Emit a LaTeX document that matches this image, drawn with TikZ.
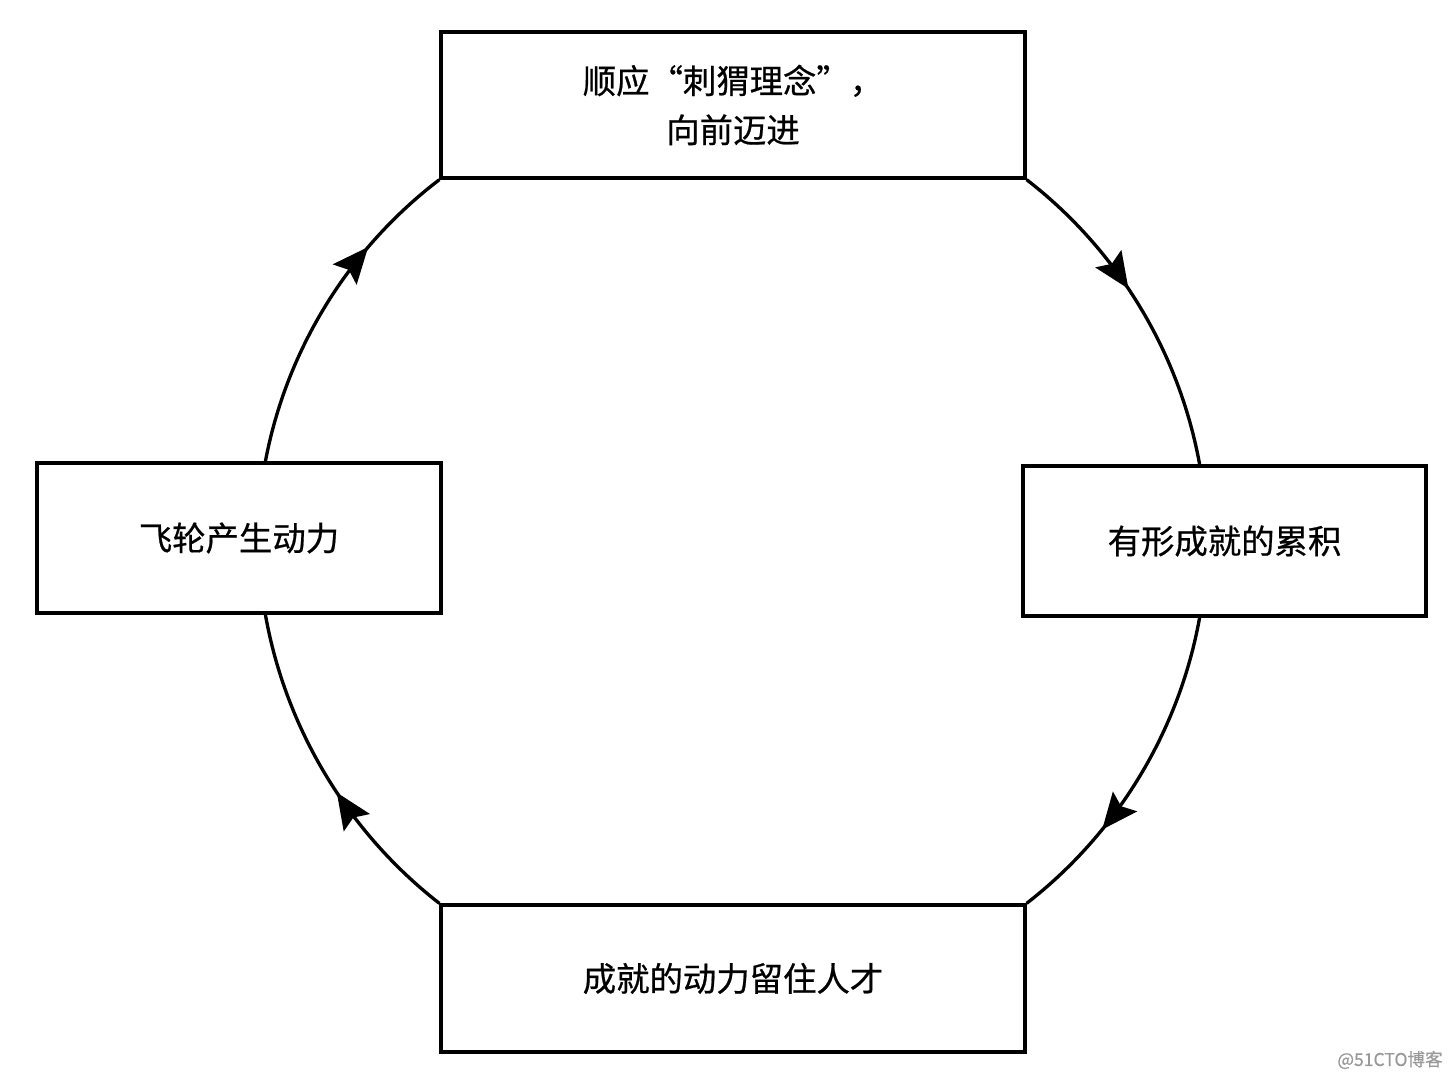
\documentclass[tikz,border=0pt]{standalone}
\usepackage{fontspec}
\setmainfont{Noto Sans CJK SC}[FakeBold=0.6]
\usetikzlibrary{arrows.meta,decorations.markings}

\begin{document}
\begin{tikzpicture}[x=0.02cm,y=-0.02cm,line width=1.9pt,
        main node/.style={rectangle,draw,inner sep=0pt,align=center,
          font=\fontsize{19pt}{28pt}\selectfont},
        flow/.style={bend left=21,looseness=0.88,postaction={decorate},
          decoration={markings,mark=at position #1 with {\arrow{Stealth[length=0.72cm,width=0.62cm,inset=0.12cm]}}}}]
        \useasboundingbox (0,0) rectangle (1450,1080);
        \node[main node, minimum width=11.68cm, minimum height=2.92cm] (1) at (733,105) {顺应“刺猬理念”，\\向前迈进};
        \node[main node, minimum width=8.06cm, minimum height=3cm] (2) at (1224.5,541) {有形成就的累积};
        \node[main node, minimum width=8.08cm, minimum height=3cm] (3) at (239,538) {飞轮产生动力};
        \node[main node, minimum width=11.68cm, minimum height=2.94cm] (4) at (733,978.5) {成就的动力留住人才};
        \node[text=black!40, font=\fontsize{10pt}{12pt}\selectfont] (wm) at (1390,1060) {@51CTO博客};
        \path
        (1.south east) edge[flow=0.44] (2.108)
        (2.252) edge[flow=0.69] (4.north east)
        (4.north west) edge[flow=0.44] (3.289)
        (3.71) edge[flow=0.71] (1.south west)
        ;
\end{tikzpicture}
\end{document}
